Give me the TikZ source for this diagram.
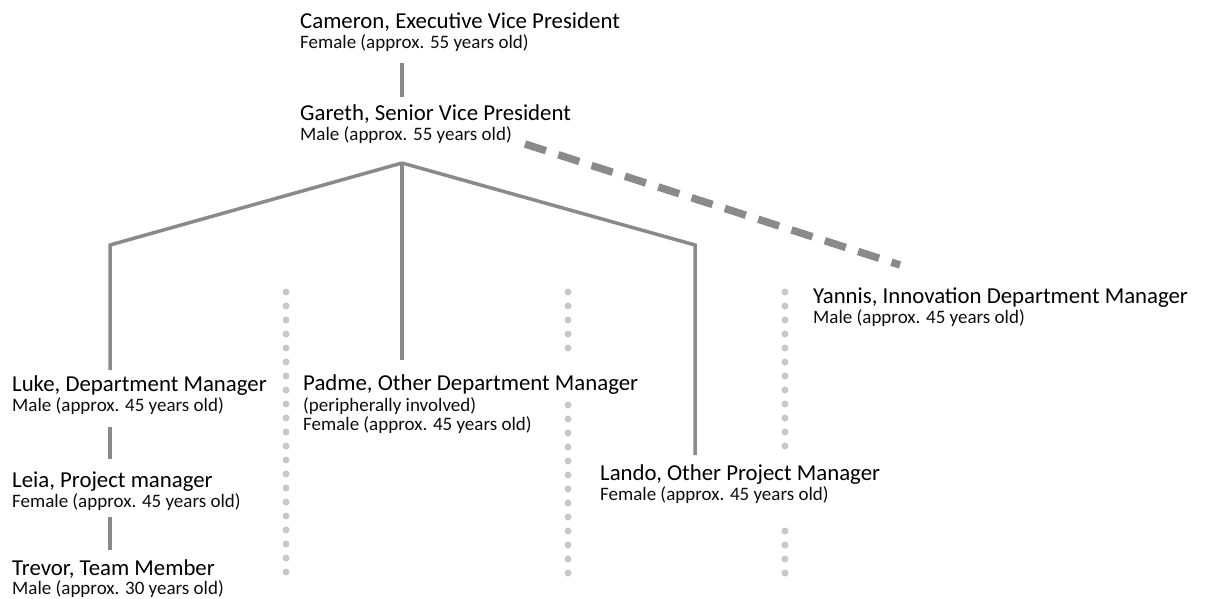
\documentclass[tikz,border=0pt]{standalone}
\usepackage{fontspec}
\setmainfont{Carlito}
\usetikzlibrary{calc}
\definecolor{linegray}{HTML}{8A8A8A}
\definecolor{dotgray}{HTML}{C8C8C8}
\newcommand\titlefnt{\fontsize{22.8}{26}\selectfont}
\newcommand\infofnt{\fontsize{19}{21}\selectfont}
\tikzset{
  ptitle/.style={anchor=base west, inner sep=0pt, font=\titlefnt, text=black},
  pinfo/.style={anchor=base west, inner sep=0pt, font=\infofnt, text=black!95},
  conn/.style={draw=linegray, line width=3.5pt},
  side/.style={draw=linegray, line width=7.5pt, dash pattern=on 22pt off 13pt},
  dot/.style={fill=dotgray}
}
\begin{document}
\begin{tikzpicture}[x=1pt,y=-1pt]
\useasboundingbox (0,0) rectangle (1207,599);
% people
\node[ptitle] (cam) at (300,29) {Cameron, Executive Vice President};
\node[pinfo] (cam2) at (300,49) {Female (approx. 55 years old)};
\node[ptitle] (gar) at (300,121) {Gareth, Senior Vice President};
\node[pinfo] (gar2) at (300,141) {Male (approx. 55 years old)};
\node[ptitle] (luke) at (12,391) {Luke, Department Manager};
\node[pinfo] (luke2) at (12,411) {Male (approx. 45 years old)};
\node[ptitle] (leia) at (12,487) {Leia, Project manager};
\node[pinfo] (leia2) at (12,507) {Female (approx. 45 years old)};
\node[ptitle] (trev) at (12,575) {Trevor, Team Member};
\node[pinfo] (trev2) at (12,594) {Male (approx. 30 years old)};
\node[ptitle] (pad) at (303,390) {Padme, Other Department Manager};
\node[pinfo] (pad2) at (303,411) {(peripherally involved)};
\node[pinfo] (pad3) at (303,430) {Female (approx. 45 years old)};
\node[ptitle] (lan) at (600,480) {Lando, Other Project Manager};
\node[pinfo] (lan2) at (600,500) {Female (approx. 45 years old)};
\node[ptitle] (yan) at (813,303) {Yannis, Innovation Department Manager};
\node[pinfo] (yan2) at (813,323) {Male (approx. 45 years old)};
% tree
\coordinate (apex) at (402,163);
\coordinate (lk) at (110,245);
\coordinate (rk) at (695,245);
\draw[conn] ($(cam2.base -| apex)+(0,14)$) -- ($(gar.base -| apex)+(0,-24)$);
\draw[conn] (apex) -- ($(pad.base -| apex)+(0,-30)$);
\draw[conn] (apex) -- (lk) -- ($(luke.base -| lk)+(0,-21)$);
\draw[conn] (apex) -- (rk) -- ($(lan.base -| rk)+(0,-25)$);
\draw[conn] ($(luke2.base -| lk)+(0,16)$) -- ($(leia.base -| lk)+(0,-28)$);
\draw[conn] ($(leia2.base -| lk)+(0,10)$) -- ($(trev.base -| lk)+(0,-25)$);
\draw[side] ($(gar2.base east)+(13,3)$) -- ($(yan.base west)+(87,-38)$);
% dotted separators
\foreach \y in {292,306,...,574} \fill[dot] (286,\y) circle (3.5);
\foreach \y in {292,306,...,350} \fill[dot] (568,\y) circle (3.5);
\foreach \y in {405,419,...,574} \fill[dot] (568,\y) circle (3.5);
\foreach \y in {292,306,...,448} \fill[dot] (785,\y) circle (3.5);
\foreach \y in {531,545,...,574} \fill[dot] (785,\y) circle (3.5);
\end{tikzpicture}
\end{document}
